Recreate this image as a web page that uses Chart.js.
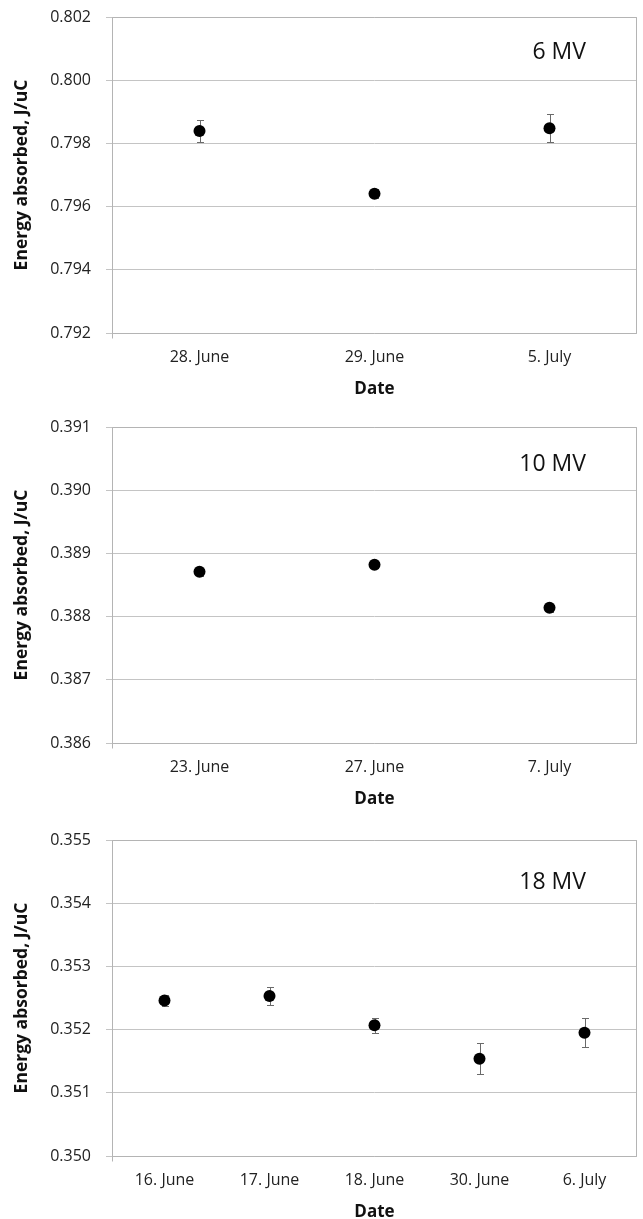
<!DOCTYPE html>
<html>
<head>
<meta charset="utf-8">
<script src="https://cdn.jsdelivr.net/npm/chart.js@4.4.1/dist/chart.umd.min.js"></script>
<style>
  html, body { margin: 0; padding: 0; background: #fff; width: 643px; height: 1219px; overflow: hidden; }
  .panel { position: absolute; left: 0; width: 643px; height: 400px; }
  canvas { display: block; }
</style>
</head>
<body>
<div class="panel" style="top:0px"><canvas id="c6" width="643" height="400"></canvas></div>
<div class="panel" style="top:410px"><canvas id="c10" width="643" height="400"></canvas></div>
<div class="panel" style="top:823px"><canvas id="c18" width="643" height="400"></canvas></div>
<script>
// 6 MV beam
const dates6   = ['28. June', '29. June', '5. July'];
const energy6  = [0.79839, 0.79641, 0.79848];
const err6     = [0.00036, 0.00015, 0.00045];
const yTicks6  = [0.792, 0.794, 0.796, 0.798, 0.800, 0.802];

// 10 MV beam
const dates10  = ['23. June', '27. June', '7. July'];
const energy10 = [0.38871, 0.38882, 0.38814];
const err10    = [0.00006, 0.00005, 0.00006];
const yTicks10 = [0.386, 0.387, 0.388, 0.389, 0.390, 0.391];

// 18 MV beam
const dates18  = ['16. June', '17. June', '18. June', '30. June', '6. July'];
const energy18 = [0.35246, 0.35253, 0.35207, 0.35154, 0.35195];
const err18    = [0.00009, 0.00014, 0.00012, 0.00025, 0.00023];
const yTicks18 = [0.350, 0.351, 0.352, 0.353, 0.354, 0.355];

const FONT = '"Open Sans", "DejaVu Sans", sans-serif';
const TEXT = '#222';

// plot frame plus the small tick under the left axis
const framePlugin = {
  id: 'frame',
  afterDraw(chart) {
    const { ctx, chartArea: a } = chart;
    const l = Math.round(a.left) + 0.5, r = Math.round(a.right) - 0.5;
    const t = Math.round(a.top) + 0.5, b = Math.round(a.bottom) + 0.5;
    ctx.save();
    ctx.strokeStyle = '#b4b4b4';
    ctx.lineWidth = 1;
    ctx.beginPath();
    ctx.moveTo(l, t); ctx.lineTo(r, t); ctx.lineTo(r, b); ctx.lineTo(l, b); ctx.closePath();
    ctx.moveTo(l, b); ctx.lineTo(l, b + 5);
    ctx.stroke();
    ctx.restore();
  }
};

// vertical error bars with caps, placed through the y scale
const errorBarPlugin = {
  id: 'errorBars',
  beforeDatasetsDraw(chart) {
    const { ctx } = chart;
    const yScale = chart.scales.y;
    chart.data.datasets.forEach((ds, di) => {
      const meta = chart.getDatasetMeta(di);
      ctx.save();
      ctx.strokeStyle = '#6a6a6a';
      ctx.lineWidth = 1;
      meta.data.forEach((pt, i) => {
        const v = ds.data[i], e = ds.errors[i];
        const yt = Math.round(yScale.getPixelForValue(v + e)) + 0.5;
        const yb = Math.round(yScale.getPixelForValue(v - e)) + 0.5;
        const x = Math.round(pt.x) + 0.5;
        ctx.beginPath();
        ctx.moveTo(x, yt); ctx.lineTo(x, yb);
        ctx.moveTo(x - 3.5, yt); ctx.lineTo(x + 3.5, yt);
        ctx.moveTo(x - 3.5, yb); ctx.lineTo(x + 3.5, yb);
        ctx.stroke();
      });
      ctx.restore();
    });
  }
};

// beam energy label in the upper right of the plot
const beamLabelPlugin = {
  id: 'beamLabel',
  afterDraw(chart, args, opts) {
    const { ctx, chartArea: a } = chart;
    ctx.save();
    ctx.font = '23px ' + FONT;
    ctx.fillStyle = '#111';
    ctx.textAlign = 'right';
    ctx.textBaseline = 'middle';
    ctx.fillText(opts.text, a.right - 51, a.top + opts.dy);
    ctx.restore();
  }
};

function makeChart(id, labels, values, errors, ticks, beam, dy) {
  return new Chart(document.getElementById(id), {
    type: 'line',
    data: {
      labels: labels,
      datasets: [{
        data: values,
        errors: errors,
        showLine: false,
        pointRadius: 6,
        pointHoverRadius: 6,
        pointBorderWidth: 0,
        pointBackgroundColor: '#000',
        borderColor: '#000'
      }]
    },
    options: {
      responsive: false,
      animation: false,
      events: [],
      layout: { padding: { top: 17, right: 3, bottom: 1, left: 0 } },
      plugins: {
        legend: { display: false },
        tooltip: { enabled: false },
        beamLabel: { text: beam, dy: dy }
      },
      scales: {
        x: {
          offset: true,
          grid: { display: false, drawTicks: false },
          border: { display: false },
          ticks: { font: { family: FONT, size: 16 }, color: TEXT, padding: 15, maxRotation: 0, autoSkip: false },
          title: { display: true, text: 'Date', font: { family: FONT, size: 17, weight: 'bold' }, color: '#111', padding: { top: 0, bottom: 0 } },
          afterFit: s => { s.height = 66; s.paddingLeft = 0; s.paddingRight = 0; }
        },
        y: {
          min: ticks[0],
          max: ticks[ticks.length - 1],
          afterBuildTicks: s => { s.ticks = ticks.map(v => ({ value: v })); },
          grid: { color: '#c4c4c4', lineWidth: 1, tickLength: 6, drawTicks: true },
          border: { display: false },
          ticks: { font: { family: FONT, size: 16 }, color: TEXT, padding: 15, callback: v => Number(v).toFixed(3) },
          title: { display: true, text: 'Energy absorbed, J/uC', font: { family: FONT, size: 17.5, weight: 'bold' }, color: '#111', padding: { top: 12, bottom: 0 } },
          afterFit: s => { s.width = 112; s.paddingTop = 0; s.paddingBottom = 0; }
        }
      }
    },
    plugins: [errorBarPlugin, framePlugin, beamLabelPlugin]
  });
}

makeChart('c6', dates6, energy6, err6, yTicks6, '6 MV', 35);
makeChart('c10', dates10, energy10, err10, yTicks10, '10 MV', 37);
makeChart('c18', dates18, energy18, err18, yTicks18, '18 MV', 42);
</script>
</body>
</html>
